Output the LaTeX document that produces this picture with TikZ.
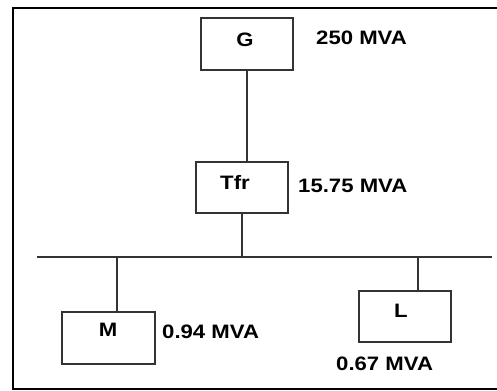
\documentclass[tikz,border=0pt]{standalone}
\usepackage{graphicx}
\usepackage{fontspec}
\setmainfont{Liberation Sans}
\newcommand{\wtxt}[1]{\scalebox{1.14}[1]{#1}}
\begin{document}
\begin{tikzpicture}[x=1bp,y=-1bp,
 box/.style={draw=black!80, line width=1.6bp, inner sep=0, anchor=north west},
 wire/.style={draw=black!80, line width=1.6bp},
 txt/.style={font=\fontsize{19.5}{20}\selectfont\bfseries, text=black, inner sep=0}]
\useasboundingbox (0,0) rectangle (497,390);
% frame
\draw[line width=2.2bp] (505,8) -- (13,8) -- (13,389) -- (505,389);
% boxes
\node[box, minimum width=92bp, minimum height=52bp] (G) at (200,17) {};
\node[box, minimum width=92bp, minimum height=51bp] (T) at (195,161) {};
\node[box, minimum width=93bp, minimum height=52bp] (M) at (61,311) {};
\node[box, minimum width=92bp, minimum height=51bp] (L) at (358,290) {};
% box texts
\node[txt] (Gt) at (245,40) {\wtxt{G}};
\node[txt] (Tt) at (235,182) {\wtxt{Tfr}};
\node[txt] (Mt) at (108,330) {\wtxt{M}};
\node[txt] (Lt) at (401,311) {\wtxt{L}};
% ratings
\node[txt, anchor=west] (Gr) at (316,38) {\wtxt{250 MVA}};
\node[txt, anchor=west] (Tr) at (298,185.5) {\wtxt{15.75 MVA}};
\node[txt, anchor=west] (Mr) at (162,331.5) {\wtxt{0.94 MVA}};
\node[txt, anchor=west] (Lr) at (336,363.5) {\wtxt{0.67 MVA}};
% bus
\coordinate (busL) at (37,257);
\coordinate (busR) at (492,257);
\coordinate (jm) at (117,257);
\coordinate (jl) at (418,257);
\draw[wire] (busL) -- (busR);
% connectors
\draw[wire] (G.south) -- (G.south |- T.north);
\draw[wire] (T.south) -- (T.south |- busL);
\draw[wire] (jm) -- (jm |- M.north);
\draw[wire] (jl) -- (jl |- L.north);
\end{tikzpicture}
\end{document}
